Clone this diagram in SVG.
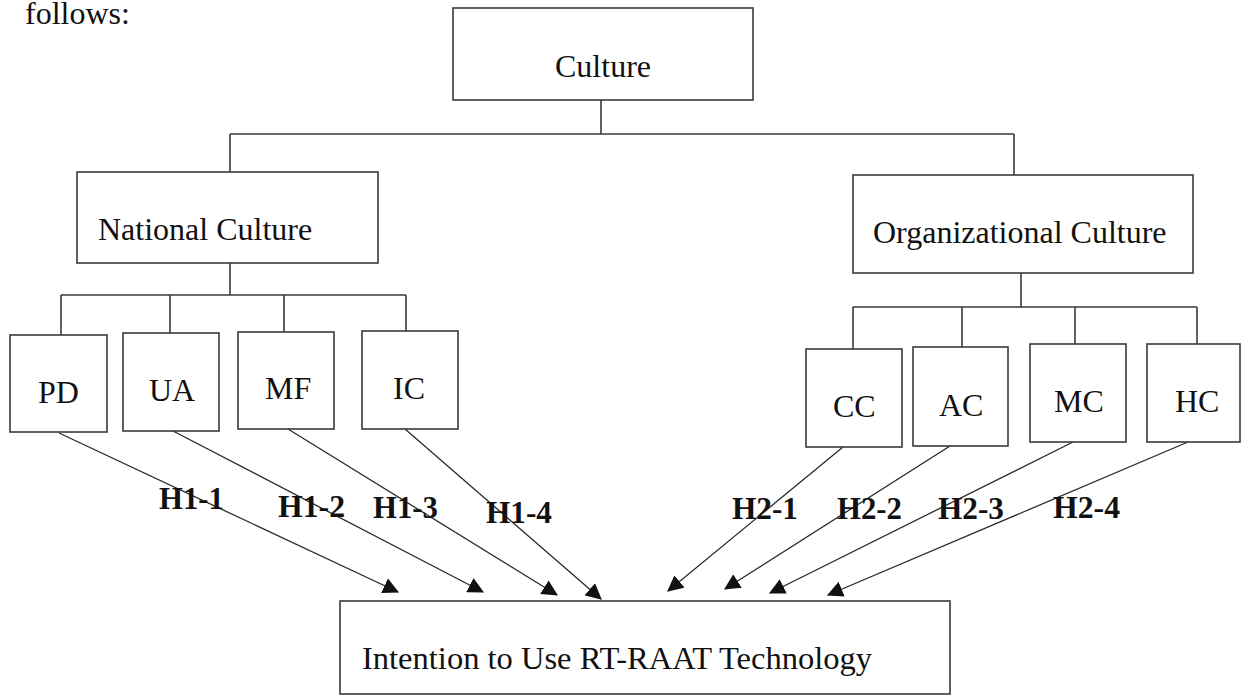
<svg xmlns="http://www.w3.org/2000/svg" width="1243" height="696" viewBox="0 0 1243 696">
  <style>
    .box { fill: #ffffff; stroke: #3a3a3a; stroke-width: 1.6; }
    .lbl { font-family: "Liberation Serif", "Times New Roman", serif; font-size: 32px; fill: #111111; }
    .hyp { font-family: "Liberation Serif", "Times New Roman", serif; font-size: 32px; font-weight: bold; fill: #111111; }
    .tree { fill: none; stroke: #3a3a3a; stroke-width: 1.6; }
    .arrow { fill: none; stroke: #2a2a2a; stroke-width: 1.3; marker-end: url(#head); }
  </style>
  <defs>
    <marker id="head" viewBox="0 0 14 14" refX="13" refY="7" markerWidth="16" markerHeight="16" markerUnits="userSpaceOnUse" orient="auto">
      <path d="M0,0 L14,7 L0,14 z" fill="#111111"/>
    </marker>
  </defs>

  <rect width="1243" height="696" fill="#ffffff"/>

  <!-- running text above the figure -->
  <text class="lbl" x="25" y="24" font-size="30">follows:</text>

  <!-- hierarchy lines and hypothesis arrows -->
  <g id="connectors">
    <path class="tree" d="M601,100 V134 M230,134 H1014 M230,134 V172 M1014,134 V175"/>
    <path class="tree" d="M230,263 V295 M61,295 H406 M61,295 V335 M170,295 V333 M284,295 V332 M406,295 V331"/>
    <path class="tree" d="M1021,273 V307 M853,307 H1197 M853,307 V349 M962,307 V347 M1075,307 V344 M1197,307 V344"/>

    <line class="arrow" x1="59" y1="433" x2="398" y2="592"/>
    <line class="arrow" x1="173" y1="431" x2="483" y2="592"/>
    <line class="arrow" x1="288" y1="429" x2="557" y2="595"/>
    <line class="arrow" x1="405" y1="429" x2="601" y2="599"/>
    <line class="arrow" x1="843" y1="447" x2="668" y2="591"/>
    <line class="arrow" x1="950" y1="446" x2="725" y2="589"/>
    <line class="arrow" x1="1073" y1="442" x2="770" y2="593"/>
    <line class="arrow" x1="1188" y1="442" x2="828" y2="595"/>

    <text class="hyp" x="159" y="509" textLength="65" lengthAdjust="spacingAndGlyphs">H1-1</text>
    <text class="hyp" x="278" y="517" textLength="67" lengthAdjust="spacingAndGlyphs">H1-2</text>
    <text class="hyp" x="373" y="518" textLength="65" lengthAdjust="spacingAndGlyphs">H1-3</text>
    <text class="hyp" x="486" y="523" textLength="66" lengthAdjust="spacingAndGlyphs">H1-4</text>
    <text class="hyp" x="732" y="519" textLength="66" lengthAdjust="spacingAndGlyphs">H2-1</text>
    <text class="hyp" x="837" y="519" textLength="65" lengthAdjust="spacingAndGlyphs">H2-2</text>
    <text class="hyp" x="938" y="519" textLength="66" lengthAdjust="spacingAndGlyphs">H2-3</text>
    <text class="hyp" x="1053" y="518" textLength="67" lengthAdjust="spacingAndGlyphs">H2-4</text>
  </g>

  <g id="culture">
    <rect class="box" x="453" y="8" width="300" height="92"/>
    <text class="lbl" x="555" y="77">Culture</text>
  </g>

  <g id="national-culture">
    <rect class="box" x="77" y="172" width="301" height="91"/>
    <text class="lbl" x="98" y="240">National Culture</text>
  </g>

  <g id="organizational-culture">
    <rect class="box" x="853" y="175" width="340" height="98"/>
    <text class="lbl" x="873" y="243">Organizational Culture</text>
  </g>

  <g id="pd">
    <rect class="box" x="10" y="335" width="97" height="97"/>
    <text class="lbl" x="38" y="403">PD</text>
  </g>
  <g id="ua">
    <rect class="box" x="123" y="333" width="96" height="98"/>
    <text class="lbl" x="149" y="401">UA</text>
  </g>
  <g id="mf">
    <rect class="box" x="238" y="332" width="96" height="97"/>
    <text class="lbl" x="265" y="399">MF</text>
  </g>
  <g id="ic">
    <rect class="box" x="362" y="331" width="96" height="98"/>
    <text class="lbl" x="393" y="399">IC</text>
  </g>

  <g id="cc">
    <rect class="box" x="806" y="349" width="96" height="98"/>
    <text class="lbl" x="833" y="417">CC</text>
  </g>
  <g id="ac">
    <rect class="box" x="913" y="347" width="95" height="99"/>
    <text class="lbl" x="939" y="416">AC</text>
  </g>
  <g id="mc">
    <rect class="box" x="1030" y="344" width="96" height="98"/>
    <text class="lbl" x="1054" y="412">MC</text>
  </g>
  <g id="hc">
    <rect class="box" x="1147" y="344" width="93" height="98"/>
    <text class="lbl" x="1175" y="412">HC</text>
  </g>

  <g id="intention">
    <rect class="box" x="340" y="601" width="610" height="93"/>
    <text class="lbl" x="362" y="669" textLength="510" lengthAdjust="spacingAndGlyphs">Intention to Use RT-RAAT Technology</text>
  </g>
</svg>
